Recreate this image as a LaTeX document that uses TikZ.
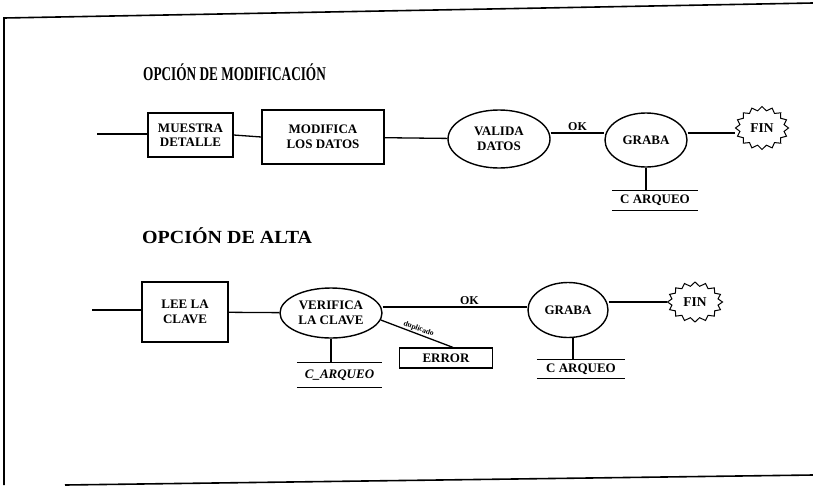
\documentclass[tikz,border=0pt]{standalone}
\usepackage{fontspec}
\usepackage{graphicx}
\setmainfont{Liberation Serif}
\usetikzlibrary{shapes.geometric,shapes.symbols}
\begin{document}
\begin{tikzpicture}[x=1pt,y=-1pt,
  every node/.style={font=\bfseries\fontsize{13}{14.5}\selectfont, align=center, inner sep=0pt},
  proc/.style={draw, line width=1.4pt, rectangle},
  bubble/.style={draw, line width=1.4pt, ellipse},
  endst/.style={draw, line width=1pt, starburst, starburst points=16, starburst point height=4pt, random starburst=0, font=\bfseries\fontsize{13.5}{14}\selectfont},
  store/.style={minimum height=19pt},
  flow/.style={line width=1.3pt},
  lbl/.style={font=\bfseries\fontsize{12}{12}\selectfont},
  frame/.style={line width=1.6pt}
]
\useasboundingbox (0,0) rectangle (813,485);
% frame
\coordinate (f1) at (813,3);
\coordinate (f2) at (4,18);
\coordinate (f3) at (4,485);
\coordinate (f4) at (65,485);
\coordinate (f5) at (813,475);
\draw[frame] (f1) -- (f2) -- (f3);
\draw[frame] (f4) -- (f5);

% titles
\node[anchor=west] (t1) at (143,72) {\scalebox{0.68}[1]{\fontsize{19.5}{19.5}\selectfont OPCIÓN DE MODIFICACIÓN}};
\node[anchor=west] (t2) at (142,236) {\scalebox{1.08}[1]{\fontsize{18.5}{18.5}\selectfont OPCIÓN DE ALTA}};

% row 1
\coordinate (s1) at (97,134);
\node[proc, minimum width=85pt, minimum height=44pt] (mues) at (190.5,135) {MUESTRA\\DETALLE};
\node[proc, minimum width=122pt, minimum height=54pt] (mod) at (323,137) {MODIFICA\\LOS DATOS};
\node[bubble, minimum width=102pt, minimum height=58pt] (val) at (499,139) {VALIDA\\DATOS};
\node[bubble, minimum width=82pt, minimum height=54pt] (gr1) at (646,140) {GRABA};
\node[endst, minimum width=53pt, minimum height=43pt] (fin1) at (762,128) {FIN};
\node[store, minimum width=86pt] (ca1) at (655,200.5) {C ARQUEO};

\draw[flow] (s1) -- (mues.west |- s1);
\draw[flow] (mues.east) -- (mod.west);
\draw[flow] (mod) -- (val);
\draw[flow] (val.east |- 0,133) -- node[lbl, above=2pt] (ok1) {OK} (gr1.west |- 0,133);
\draw[flow] (gr1.east |- 0,133) -- (fin1.west |- 0,133);
\draw[flow] (gr1.south) -- (gr1.south |- ca1.north);
\draw[flow] (ca1.north west) -- (ca1.north east);
\draw[flow] (ca1.south west) -- (ca1.south east);

% row 2
\coordinate (s2) at (92,310);
\node[proc, minimum width=86pt, minimum height=60pt] (lee) at (185,312) {LEE LA\\CLAVE};
\node[bubble, minimum width=102pt, minimum height=50pt] (ver) at (331,313) {VERIFICA\\LA CLAVE};
\node[bubble, minimum width=80pt, minimum height=55pt] (gr2) at (568,310) {GRABA};
\node[endst, minimum width=55pt, minimum height=40pt] (fin2) at (695,302) {FIN};
\node[proc, line width=1.2pt, minimum width=93pt, minimum height=20pt] (err) at (446,358) {ERROR};
\node[store, minimum width=85pt, minimum height=24pt] (ca2) at (339.5,375) {\itshape C\_ARQUEO};
\node[store, minimum width=88pt, minimum height=18pt] (ca3) at (581,369) {C ARQUEO};

\draw[flow] (s2) -- (lee.west |- s2);
\draw[flow] (lee) -- (ver);
\draw[flow] (ver.east |- 0,307) -- node[lbl, above=2pt, pos=0.6] (ok2) {OK} (gr2.west |- 0,307);
\draw[flow] (gr2.east |- 0,302) -- (fin2.west |- 0,302);
\draw[flow] (ver.-8) -- node[font=\bfseries\fontsize{7.5}{8}\selectfont, sloped, above=1pt] (dup) {duplicado} ([xshift=7pt]err.north);
\draw[flow] (ver.south) -- (ver.south |- ca2.north);
\draw[flow] (ca2.north west) -- (ca2.north east);
\draw[flow] (ca2.south west) -- (ca2.south east);
\draw[flow] ([xshift=5pt]gr2.south) -- ([xshift=5pt]gr2.south |- ca3.north);
\draw[flow] (ca3.north west) -- (ca3.north east);
\draw[flow] (ca3.south west) -- (ca3.south east);
\end{tikzpicture}
\end{document}
